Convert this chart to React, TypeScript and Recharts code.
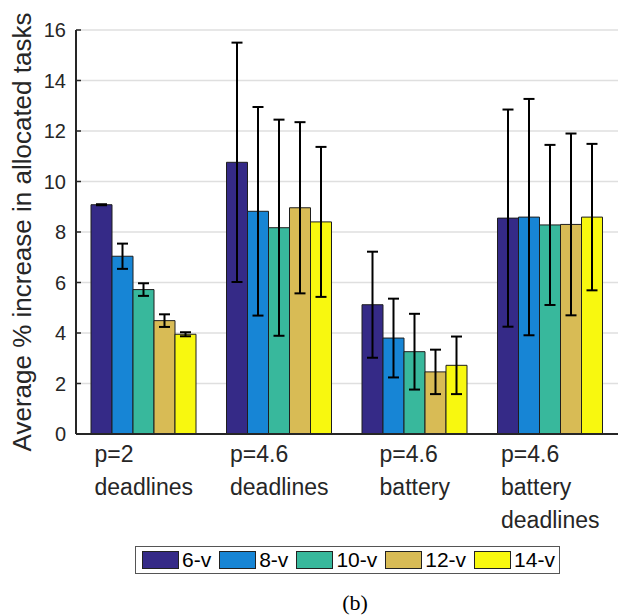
import React from 'react'
import { Bar, BarChart, CartesianGrid, ErrorBar, Label, Legend, XAxis, YAxis } from 'recharts'

const categories = [
  ['p=2', 'deadlines'],
  ['p=4.6', 'deadlines'],
  ['p=4.6', 'battery'],
  ['p=4.6', 'battery', 'deadlines'],
]
const seriesNames = ['6-v', '8-v', '10-v', '12-v', '14-v']
const seriesColors = ['#352a87', '#1785d5', '#38b89c', '#d8bb55', '#f8f80f']

// mean values per category
const v6 = [9.08, 10.76, 5.12, 8.55]
const v8 = [7.04, 8.82, 3.8, 8.59]
const v10 = [5.72, 8.17, 3.26, 8.28]
const v12 = [4.49, 8.96, 2.46, 8.3]
const v14 = [3.95, 8.4, 2.72, 8.59]

// error (+/-) per category
const e6 = [0.02, 4.74, 2.1, 4.3]
const e8 = [0.5, 4.13, 1.56, 4.68]
const e10 = [0.25, 4.28, 1.5, 3.17]
const e12 = [0.25, 3.39, 0.88, 3.6]
const e14 = [0.08, 2.97, 1.14, 2.9]

const yTicks = [0, 2, 4, 6, 8, 10, 12, 14, 16]

const values = [v6, v8, v10, v12, v14]
const errors = [e6, e8, e10, e12, e14]

const data = categories.map((lines, i) => {
  const row: Record<string, any> = { name: lines.join('|') }
  seriesNames.forEach((s, k) => {
    row[s] = values[k][i]
    row[s + '_err'] = errors[k][i]
  })
  return row
})

const SANS = '"Liberation Sans", Arial, Helvetica, sans-serif'
const INK = '#262626'

let ctx: CanvasRenderingContext2D | null = null
const measure = (s: string, font: string) => {
  if (!ctx) ctx = document.createElement('canvas').getContext('2d')
  if (!ctx) return s.length * 11
  ctx.font = font
  return ctx.measureText(s).width
}

const CategoryTick = (props: any) => {
  const { x, y, payload } = props
  const lines: string[] = String(payload.value).split('|')
  const font = `23px ${SANS}`
  const w = Math.max(...lines.map((l) => measure(l, font)))
  return (
    <g>
      {lines.map((l, i) => (
        <text key={i} x={x - w / 2} y={y + 28 + i * 33} fill={INK} fontSize={23} fontFamily={SANS} textAnchor="start">
          {l}
        </text>
      ))}
    </g>
  )
}

const TopTick = (props: any) => {
  const { x, y } = props
  return <line x1={x} x2={x} y1={y} y2={y + 5} stroke={INK} strokeWidth={1.5} />
}

const LeftTick = (props: any) => {
  const { x, y, payload } = props
  return (
    <g>
      <line x1={x} x2={x + 5} y1={y} y2={y} stroke={INK} strokeWidth={1.5} />
      <text x={x - 10} y={y} dy="0.36em" fill={INK} fontSize={20} fontFamily={SANS} textAnchor="end">
        {payload.value}
      </text>
    </g>
  )
}

const RightTick = (props: any) => {
  const { x, y } = props
  return <line x1={x - 5} x2={x} y1={y} y2={y} stroke={INK} strokeWidth={1.5} />
}

const LegendBox = (props: any) => {
  const items = [...(props.payload || [])].sort(
    (a: any, b: any) => seriesNames.indexOf(a.value) - seriesNames.indexOf(b.value)
  )
  return (
    <div
      style={{
        display: 'flex',
        alignItems: 'center',
        border: '1px solid #555',
        background: '#fff',
        padding: '0 4px 0 6px',
        height: 26,
        fontFamily: SANS,
        fontSize: 21,
        color: '#000',
        whiteSpace: 'nowrap',
      }}
    >
      {items.map((p: any, i: number) => (
        <div key={p.value} style={{ display: 'flex', alignItems: 'center', marginRight: i < items.length - 1 ? 8 : 0 }}>
          <span
            style={{
              display: 'inline-block',
              width: 35,
              height: 16,
              background: p.color,
              border: '1px solid #222',
              marginRight: 3,
            }}
          />
          <span>{p.value}</span>
        </div>
      ))}
    </div>
  )
}

export default function App() {
  return (
    <div
      style={{
        position: 'fixed',
        left: 0,
        top: 0,
        width: 618,
        height: 615,
        overflow: 'hidden',
        background: '#fff',
        fontFamily: SANS,
      }}
    >
      <BarChart
        width={620}
        height={615}
        data={data}
        margin={{ top: 30, right: 2, left: 0, bottom: 0 }}
        barCategoryGap={15}
        barGap={0}
      >
        <CartesianGrid vertical={false} stroke="#dfdfdf" strokeWidth={1.5} />
        <XAxis
          dataKey="name"
          height={181}
          interval={0}
          tickSize={0}
          tickMargin={0}
          tickLine={false}
          axisLine={{ stroke: INK, strokeWidth: 2 }}
          tick={<CategoryTick />}
        />
        <XAxis
          xAxisId="top"
          orientation="top"
          dataKey="name"
          height={0}
          interval={0}
          tickSize={0}
          tickMargin={0}
          tickLine={false}
          axisLine={{ stroke: INK, strokeWidth: 2 }}
          tick={<TopTick />}
        />
        <YAxis
          width={76}
          domain={[0, 16]}
          ticks={yTicks}
          interval={0}
          tickSize={0}
          tickMargin={0}
          tickLine={false}
          axisLine={{ stroke: INK, strokeWidth: 2 }}
          tick={<LeftTick />}
        >
          <Label
            content={(p: any) => {
              const vb = p.viewBox || { x: 0, y: 30, width: 76, height: 404 }
              const cx = vb.x + 22
              const cy = vb.y + vb.height / 2
              return (
                <text
                  x={cx}
                  y={cy}
                  transform={`rotate(-90 ${cx} ${cy})`}
                  textAnchor="middle"
                  dy="0.36em"
                  fill={INK}
                  fontSize={26}
                  fontFamily={SANS}
                >
                  Average % increase in allocated tasks
                </text>
              )
            }}
          />
        </YAxis>
        <YAxis
          yAxisId="right"
          orientation="right"
          width={0}
          domain={[0, 16]}
          ticks={yTicks}
          interval={0}
          tickSize={0}
          tickMargin={0}
          tickLine={false}
          axisLine={{ stroke: INK, strokeWidth: 2 }}
          tick={<RightTick />}
        />
        <Legend
          layout="vertical"
          align="center"
          verticalAlign="middle"
          wrapperStyle={{ left: 135, top: 546, width: 'auto', height: 'auto' }}
          content={<LegendBox />}
        />
        {seriesNames.map((s, k) => (
          <Bar key={s} dataKey={s} fill={seriesColors[k]} stroke="#1e1e1e" strokeWidth={1} isAnimationActive={false}>
            <ErrorBar dataKey={s + '_err'} width={5.5} stroke="#000" strokeWidth={2} isAnimationActive={false} />
          </Bar>
        ))}
      </BarChart>
      <div
        style={{
          position: 'absolute',
          left: 355,
          top: 590,
          transform: 'translateX(-50%)',
          fontFamily: '"Liberation Serif", "Times New Roman", serif',
          fontSize: 22,
          color: '#000',
        }}
      >
        (b)
      </div>
    </div>
  )
}
